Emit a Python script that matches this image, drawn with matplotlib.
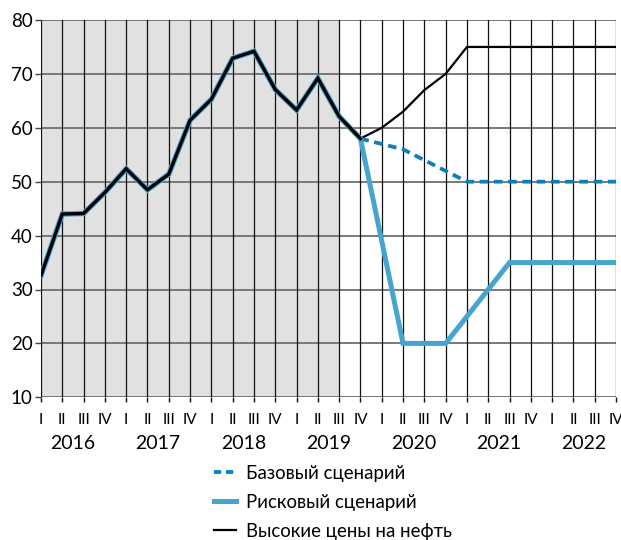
import matplotlib
matplotlib.use("Agg")
import matplotlib.pyplot as plt
import matplotlib.transforms as mtransforms
from matplotlib.lines import Line2D

plt.rcParams['font.family'] = ['Lato', 'DejaVu Sans']

# Quarterly oil price, USD per barrel
years = ["2016", "2017", "2018", "2019", "2020", "2021", "2022"]
quarters = ["I", "II", "III", "IV"]

history = [32.6, 44.0, 44.1, 48.0, 52.4, 48.5, 51.4, 61.4,
           65.3, 72.9, 74.2, 67.1, 63.3, 69.2, 62.1, 58.0]

# Scenarios start from the last actual quarter (IV 2019)
base = [58, 57, 56, 54, 52, 50, 50, 50, 50, 50, 50, 50, 50]
risk = [58, 39, 20, 20, 20, 25, 30, 35, 35, 35, 35, 35, 35]
high = [58, 60, 63, 67, 70, 75, 75, 75, 75, 75, 75, 75, 75]

legend_labels = ["Базовый сценарий", "Рисковый сценарий", "Высокие цены на нефть"]

n_q = len(years) * len(quarters)
x_hist = list(range(len(history)))
x_fc = list(range(len(history) - 1, len(history) - 1 + len(base)))

c_base = "#0A7FBA"
c_risk = "#45A5CF"
c_shade = "#E1E1E1"

fig = plt.figure(figsize=(6.21, 5.40), dpi=100)
ax = fig.add_axes([41 / 621, 1 - 397.3 / 540, (616 - 41) / 621, (397.3 - 20) / 540])

ax.set_xlim(0, n_q - 1)
ax.set_ylim(10, 80)

# shaded actual-data period
ax.axvspan(0, 14, color=c_shade, zorder=0, lw=0)

# grid
for yv in range(10, 81, 10):
    ax.axhline(yv, color="#6E6E6E", lw=1.3, zorder=1)
for xv in range(n_q):
    ax.axvline(xv, color="#111111", lw=0.9, zorder=1)

for s in ax.spines.values():
    s.set_visible(False)

# scenario lines
ax.plot(x_fc, risk, color=c_risk, lw=3.6, solid_joinstyle="miter", zorder=3)
ax.plot(x_fc, base, color=c_base, lw=2.7, dashes=(2.3, 1.5), dash_capstyle="butt", zorder=4)
ax.plot(x_fc, high, color="black", lw=1.6, zorder=4)

# actual prices: black line with blue edging
ax.plot(x_hist, history, color=c_risk, lw=3.9, zorder=5, solid_joinstyle="miter")
ax.plot(x_hist, history, color="black", lw=2.4, zorder=6, solid_joinstyle="miter")

# ticks
ax.set_yticks(range(10, 81, 10))
ax.tick_params(axis="y", length=4, width=1, color="#444444", labelsize=13.5, pad=2)
ax.set_xticks(range(n_q))
ax.set_xticklabels(quarters * len(years))
ax.tick_params(axis="x", length=3.5, width=1, color="#111111", labelsize=11, pad=8)

trans = mtransforms.blended_transform_factory(ax.transData, ax.transAxes)
for i, yr in enumerate(years):
    ax.text(4 * i + 1.5, -0.122, yr, transform=trans, ha="center", va="center", fontsize=14)

handles = [
    Line2D([], [], color=c_base, lw=2.7, dashes=(1.9, 1.3), dash_capstyle="butt"),
    Line2D([], [], color=c_risk, lw=3.6),
    Line2D([], [], color="black", lw=1.6),
]
fig.legend(handles, legend_labels, loc="upper left", bbox_to_anchor=(214 / 621, 1 - 465 / 540),
           frameon=False, fontsize=13.4, handlelength=1.2, handletextpad=0.5,
           labelspacing=0.64, borderpad=0, borderaxespad=0)

fig.savefig("out.png", dpi=100)
